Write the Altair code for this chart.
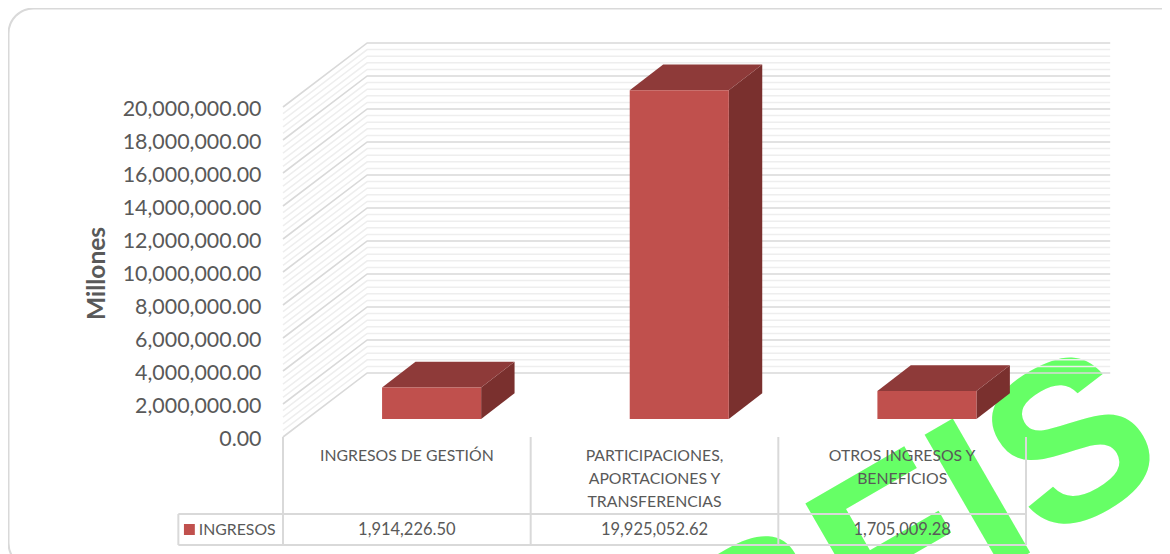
import altair as alt
import pandas as pd

CATEGORIES = ["INGRESOS DE GESTIÓN", "PARTICIPACIONES,\nAPORTACIONES Y\nTRANSFERENCIAS", "OTROS INGRESOS Y\nBENEFICIOS"]
VALUES = [1914226.50, 19925052.62, 1705009.28]
SERIES = "INGRESOS"
TICKS = list(range(0, 20000001, 2000000))
MINOR = list(range(0, 20000001, 400000))

WALL_DX, WALL_DY = 0.34, 3880000   # depth of the 3-D walls, in axis units
BAR_LEFT, BAR_W = 0.40, 0.40       # bar's place in a category
BAR_BASE = 1090000                 # lift of bar's front face
BAR_DX, BAR_DY = 0.135, 1560000    # depth of a bar
NCAT = len(CATEGORIES)

W, H = 1154, 546
xs = alt.Scale(domain=[0, NCAT], range=[275, 1018])
ys = alt.Scale(domain=[0, 20000000], range=[429, 99])
Y_AXIS = alt.Axis(
    values=TICKS, format=",.2f", offset=-275, domain=False, ticks=False, grid=False, zindex=1,
    labelFont="Lato", labelFontSize=21.4, labelColor="#595959", labelPadding=22, labelOffset=2,
    title="Millones", titleFont="Lato", titleFontSize=24.5, titleFontWeight="bold",
    titleColor="#595959", titleX=-174, titleY=265, titleAngle=270, titleAlign="center")
X = lambda f: alt.X(f, type="quantitative", scale=xs, axis=None)
Y = lambda f: alt.Y(f, type="quantitative", scale=ys, axis=Y_AXIS)

# walls
walls = []
for v in MINOR:
    kind = "major" if v in TICKS else "minor"
    for i, (x, y) in enumerate([(0, v), (WALL_DX, v + WALL_DY), (NCAT + WALL_DX, v + WALL_DY)]):
        walls.append(dict(v=v, kind=kind, x=x, y=y, o=i))
walls = pd.DataFrame(walls)

minor = alt.Chart(walls[walls.kind == "minor"]).mark_line(color="#eeeeee", strokeWidth=1.5).encode(
    x=X("x"), y=Y("y"), detail="v:N", order="o:Q")
major = alt.Chart(walls[walls.kind == "major"]).mark_line(color="#d9d9d9", strokeWidth=1.6).encode(
    x=X("x"), y=Y("y"), detail="v:N", order="o:Q")

# bars
front, top, side = [], [], []
for i, val in enumerate(VALUES):
    x0 = i + BAR_LEFT
    x1 = x0 + BAR_W
    b = BAR_BASE
    t = b + val
    front.append(dict(x=x0, x2=x1, y=b, y2=t))
    top += [dict(c=i, x=x0, y=t, y2=t), dict(c=i, x=x0 + BAR_DX, y=t + BAR_DY, y2=t),
            dict(c=i, x=x1, y=t + BAR_DY, y2=t), dict(c=i, x=x1 + BAR_DX, y=t + BAR_DY, y2=t + BAR_DY)]
    side += [dict(c=i, x=x1, y=t, y2=b), dict(c=i, x=x1 + BAR_DX, y=t + BAR_DY, y2=b + BAR_DY)]

side_l = alt.Chart(pd.DataFrame(side)).mark_area(color="#7a302e").encode(
    x=X("x"), y=Y("y"), y2="y2:Q", detail="c:N")
top_l = alt.Chart(pd.DataFrame(top)).mark_area(color="#8e3a39").encode(
    x=X("x"), y=Y("y"), y2="y2:Q", detail="c:N")
front_l = alt.Chart(pd.DataFrame(front)).mark_rect(color="#c0504d").encode(
    x=X("x"), x2="x2:Q", y=Y("y"), y2="y2:Q")

# data table
cols = list(range(NCAT + 1))
vert = alt.Chart(pd.DataFrame({"x": cols})).mark_rule(color="#d9d9d9", strokeWidth=2).encode(
    x=X("x"), y=alt.value(429), y2=alt.value(537))
left_edge = alt.Chart(pd.DataFrame({"x": [-0.4226]})).mark_rule(color="#d9d9d9", strokeWidth=2).encode(
    x=X("x"), y=alt.value(506), y2=alt.value(537))
hlines = alt.Chart(pd.DataFrame({"x": [-0.4226, -0.4226], "x2": [NCAT, NCAT], "py": [506, 537]})).mark_rule(
    color="#d9d9d9", strokeWidth=2).encode(x=X("x"), x2="x2:Q", y=alt.Y("py:Q", scale=None))

cats = pd.DataFrame({"x": [i + 0.5 for i in range(NCAT)], "label": CATEGORIES, "val": VALUES})
cat_text = alt.Chart(cats).mark_text(font="Lato", fontSize=15.8, color="#595959", baseline="top",
                                     lineBreak="\n", lineHeight=23).encode(
    x=X("x"), y=alt.value(441), text="label:N")
val_text = alt.Chart(cats).mark_text(font="Lato", fontSize=16.5, color="#595959", baseline="middle").encode(
    x=X("x"), y=alt.value(522), text=alt.Text("val:Q", format=",.2f"))
legend_sw = alt.Chart(pd.DataFrame({"x": [-0.4], "x2": [-0.356]})).mark_rect(color="#c0504d").encode(
    x=X("x"), x2="x2:Q", y=alt.value(516), y2=alt.value(527))
legend_tx = alt.Chart(pd.DataFrame({"x": [-0.34], "t": [SERIES]})).mark_text(
    font="Lato", fontSize=15.8, color="#595959", align="left", baseline="middle").encode(
    x=X("x"), y=alt.value(522), text="t:N")

# card + clipped title + watermark
card = alt.Chart(pd.DataFrame({"a": [1]})).mark_rect(
    fill="#ffffff", stroke="#d9d9d9", strokeWidth=2, cornerRadius=25).encode(
    x=alt.value(0.5), x2=alt.value(1180), y=alt.value(0.5), y2=alt.value(560))
title = alt.Chart(pd.DataFrame({"t": ["INGRESOS"]})).mark_text(
    font="Lato", fontSize=24, fontWeight="bold", color="#000000", align="left", baseline="bottom").encode(
    x=alt.value(37), y=alt.value(-3), text="t:N")
water = alt.Chart(pd.DataFrame({"t": ["OBFIS"]})).mark_text(
    font="Liberation Sans", fontSize=225, fontWeight="bold", color="#66ff66", align="right",
    baseline="alphabetic", angle=330).encode(
    x=alt.value(1165), y=alt.value(462), text="t:N")

chart = alt.layer(
    card, water, minor, major, side_l, top_l, front_l,
    vert, left_edge, hlines, cat_text, val_text, legend_sw, legend_tx, title
).properties(
    width=W, height=H, padding=0, autosize=alt.AutoSizeParams(type="none")
).configure_view(stroke=None).resolve_scale(x="shared", y="shared")

chart.save("out.html", embed_options={"renderer": "svg", "actions": False})
